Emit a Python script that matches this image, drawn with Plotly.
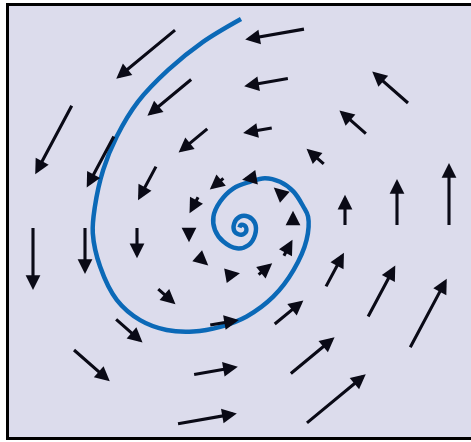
import plotly.graph_objects as go

# Sample points of the vector field (tails), arranged on four rings
tail_x = [1.00, 0.81, 0.31, -0.31, -0.81, -1.00, -0.81, -0.31, 0.31, 0.81,
          2.00, 1.62, 0.62, -0.62, -1.62, -2.00, -1.62, -0.62, 0.62, 1.62,
          3.00, 2.43, 0.93, -0.93, -2.43, -3.00, -2.43, -0.93, 0.93, 2.43,
          4.00, 3.24, 1.24, -1.24, -3.24, -4.00, -3.24, -1.24, 1.24, 3.24]
tail_y = [0.00, 0.59, 0.95, 0.95, 0.59, 0.00, -0.59, -0.95, -0.95, -0.59,
          0.00, 1.18, 1.90, 1.90, 1.18, 0.00, -1.18, -1.90, -1.90, -1.18,
          0.00, 1.76, 2.85, 2.85, 1.76, 0.00, -1.76, -2.85, -2.85, -1.76,
          0.00, 2.35, 3.80, 3.80, 2.35, 0.00, -2.35, -3.80, -3.80, -2.35]

# Field components at those points
u = [0.00, -0.59, -0.95, -0.95, -0.59, 0.00, 0.59, 0.95, 0.95, 0.59,
     0.00, -1.18, -1.90, -1.90, -1.18, 0.00, 1.18, 1.90, 1.90, 1.18,
     0.00, -1.76, -2.85, -2.85, -1.76, 0.00, 1.76, 2.85, 2.85, 1.76,
     0.00, -2.35, -3.80, -3.80, -2.35, 0.00, 2.35, 3.80, 3.80, 2.35]
v = [1.00, 0.52, -0.17, -0.79, -1.10, -1.00, -0.52, 0.17, 0.79, 1.10,
     2.00, 1.03, -0.33, -1.57, -2.21, -2.00, -1.03, 0.33, 1.57, 2.21,
     3.00, 1.55, -0.50, -2.36, -3.31, -3.00, -1.55, 0.50, 2.36, 3.31,
     4.00, 2.06, -0.67, -3.14, -4.41, -4.00, -2.06, 0.67, 3.14, 4.41]

# Trajectory spiralling into the origin
traj_x = [0.00, -0.73, -1.40, -1.98, -2.39, -2.65, -2.81, -2.85, -2.71, -2.39,
          -1.94, -1.43, -0.92, -0.40, 0.11, 0.62, 1.01, 1.26, 1.29, 1.20,
          1.01, 0.75, 0.46, 0.17, -0.15, -0.40, -0.53, -0.50, -0.34, -0.08,
          0.14, 0.27, 0.27, 0.14, -0.02, -0.13, -0.12, 0.01, 0.10, 0.08,
          0.00, -0.03]
traj_y = [3.99, 3.55, 3.01, 2.40, 1.73, 1.09, 0.38, -0.13, -0.77, -1.41,
          -1.80, -1.99, -2.02, -1.93, -1.73, -1.35, -0.84, -0.26, 0.19, 0.38,
          0.67, 0.86, 0.93, 0.86, 0.73, 0.48, 0.19, -0.07, -0.29, -0.42,
          -0.36, -0.16, 0.06, 0.19, 0.19, 0.06, -0.10, -0.16, -0.09, 0.01,
          0.03, -0.02]

ARROW_SCALE = 0.305
ARROW_COLOR = "#0a0a16"

fig = go.Figure()

fig.add_trace(go.Scatter(
    x=traj_x, y=traj_y, mode="lines",
    line=dict(color="#0b69b7", width=4.5, shape="spline", smoothing=1.0),
    hoverinfo="skip", showlegend=False,
))

annotations = []
for x0, y0, du, dv in zip(tail_x, tail_y, u, v):
    annotations.append(dict(
        x=x0 + du * ARROW_SCALE, y=y0 + dv * ARROW_SCALE,
        ax=x0, ay=y0,
        xref="x", yref="y", axref="x", ayref="y",
        text="", showarrow=True,
        arrowhead=2, arrowwidth=3.1, arrowsize=0.95,
        arrowcolor=ARROW_COLOR, standoff=0, startstandoff=0,
    ))

# Frame on the left, top and bottom edges of the plotting area
PW, PH = 462.0, 431.0
frame = dict(type="line", xref="paper", yref="paper",
             line=dict(color="black", width=3), layer="above")
shapes = [
    dict(frame, x0=-1.5 / PW, x1=-1.5 / PW, y0=-3 / PH, y1=1 + 3 / PH),
    dict(frame, x0=-3 / PW, x1=1.0, y0=1 + 1.5 / PH, y1=1 + 1.5 / PH),
    dict(frame, x0=-3 / PW, x1=1.0, y0=-1.5 / PH, y1=-1.5 / PH),
]

fig.update_layout(
    width=471, height=442,
    margin=dict(l=9, r=0, t=6, b=5),
    paper_bgcolor="white",
    plot_bgcolor="#dcdcec",
    showlegend=False,
    annotations=annotations,
    shapes=shapes,
    xaxis=dict(range=[-4.4615, 4.4231], showgrid=False, zeroline=False,
               showticklabels=False, ticks="", showline=False, fixedrange=True),
    yaxis=dict(range=[-4.048, 4.240], showgrid=False, zeroline=False,
               showticklabels=False, ticks="", showline=False, fixedrange=True),
)

fig.write_html("out.html", config={"displayModeBar": False})
